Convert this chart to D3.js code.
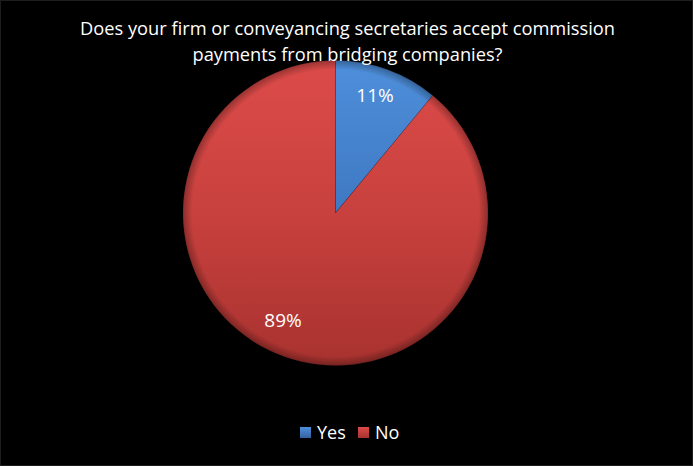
<!DOCTYPE html>
<html>
<head>
<meta charset="utf-8">
<script src="https://cdn.jsdelivr.net/npm/d3@7"></script>
<style>
  html, body { margin: 0; padding: 0; background: #000; }
  svg { display: block; }
</style>
</head>
<body>
<script>
// ---- data ----
const categories = ["Yes", "No"];
const values = [11, 89];
const labels = ["11%", "89%"];
const titleLines = [
  "Does your firm or conveyancing secretaries accept commission",
  "payments from bridging companies?"
];

const W = 693, H = 466;
const cx = 335.5, cy = 213, R = 152.5;
const fontFam = "'Open Sans', 'Noto Sans', sans-serif";

const svg = d3.select("body").append("svg").attr("width", W).attr("height", H);
svg.append("rect").attr("x", 0.5).attr("y", 0.5).attr("width", W - 1).attr("height", H - 1)
  .attr("fill", "#000").attr("stroke", "#1e1e1e");

const defs = svg.append("defs");
const palettes = {
  Yes: { top: "#4e8fdb", mid: "#3f78c2", bot: "#35629f" },
  No:  { top: "#dc4b49", mid: "#c8413e", bot: "#a8322f" }
};
categories.forEach(c => {
  const p = palettes[c];
  const g = defs.append("linearGradient").attr("id", "grad-" + c)
    .attr("gradientUnits", "userSpaceOnUse")
    .attr("x1", 0).attr("y1", -R).attr("x2", 0).attr("y2", R);
  g.append("stop").attr("offset", "0%").attr("stop-color", p.top);
  g.append("stop").attr("offset", "50%").attr("stop-color", p.mid);
  g.append("stop").attr("offset", "100%").attr("stop-color", p.bot);
  const lg = defs.append("linearGradient").attr("id", "leg-" + c)
    .attr("x1", 0).attr("y1", 0).attr("x2", 0).attr("y2", 1);
  lg.append("stop").attr("offset", "0%").attr("stop-color", p.top);
  lg.append("stop").attr("offset", "100%").attr("stop-color", p.bot);
});
// rim shading (soft bevel)
const rim = defs.append("radialGradient").attr("id", "rim")
  .attr("gradientUnits", "userSpaceOnUse")
  .attr("cx", 0).attr("cy", 0).attr("r", R);
rim.append("stop").attr("offset", "0%").attr("stop-color", "#000").attr("stop-opacity", 0);
rim.append("stop").attr("offset", "94%").attr("stop-color", "#000").attr("stop-opacity", 0);
rim.append("stop").attr("offset", "100%").attr("stop-color", "#000").attr("stop-opacity", 0.3);

const pie = d3.pie().sort(null).value(d => d.value);
const arcs = pie(categories.map((c, i) => ({ cat: c, value: values[i], label: labels[i] })));
const arc = d3.arc().innerRadius(0).outerRadius(R);

const g = svg.append("g").attr("transform", `translate(${cx},${cy})`);
g.selectAll("path.slice").data(arcs).enter().append("path")
  .attr("class", "slice")
  .attr("d", arc)
  .attr("fill", d => `url(#grad-${d.data.cat})`)
  .attr("stroke", "rgba(0,0,0,0.15)").attr("stroke-width", 0.8);
g.selectAll("path.rim").data(arcs).enter().append("path")
  .attr("class", "rim").attr("d", arc).attr("fill", "url(#rim)");

// labels
const labelPos = { Yes: [375 - cx, 101.5 - cy], No: [283 - cx, 327 - cy] };
g.selectAll("text.lbl").data(arcs).enter().append("text")
  .attr("class", "lbl")
  .attr("x", d => labelPos[d.data.cat][0])
  .attr("y", d => labelPos[d.data.cat][1])
  .attr("text-anchor", "middle")
  .attr("font-family", fontFam).attr("font-size", 19)
  .attr("fill", "#fff")
  .text(d => d.data.label);

// title
const tWidths = [535, 310];
const tY = [35, 61];
svg.selectAll("text.title").data(titleLines).enter().append("text")
  .attr("class", "title")
  .attr("x", W / 2 + 1).attr("y", (d, i) => tY[i])
  .attr("text-anchor", "middle")
  .attr("font-family", fontFam).attr("font-size", 19)
  .attr("fill", "#fff")
  .attr("textLength", (d, i) => tWidths[i])
  .attr("lengthAdjust", "spacingAndGlyphs")
  .text(d => d);

// legend
const legX = [300, 358];
const leg = svg.selectAll("g.leg").data(categories).enter().append("g")
  .attr("class", "leg")
  .attr("transform", (d, i) => `translate(${legX[i]},427)`);
leg.append("rect").attr("width", 11).attr("height", 11)
  .attr("fill", d => `url(#leg-${d})`);
leg.append("text").attr("x", 17).attr("y", 12)
  .attr("font-family", fontFam).attr("font-size", 18).attr("fill", "#fff")
  .text(d => d);
</script>
</body>
</html>
